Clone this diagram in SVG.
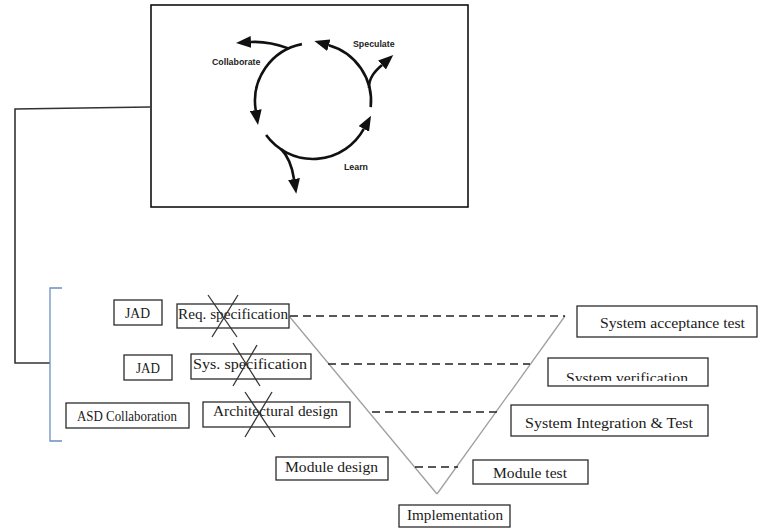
<svg xmlns="http://www.w3.org/2000/svg" width="760" height="529" viewBox="0 0 760 529">
  <defs>
    <style>
      .box { fill: #fff; stroke: #2b2b2b; stroke-width: 1.3; }
      .lbl { font-family: "Liberation Serif", "Times New Roman", serif; font-size: 15px; fill: #1a1a1a; }
      .cyc { font-family: "Liberation Sans", Arial, sans-serif; font-size: 8.8px; font-weight: bold; fill: #222; }
      .arc { fill: none; stroke: #111; stroke-width: 2.6; }
      .cross { stroke: #333; stroke-width: 1.3; }
      .link { fill: none; stroke: #333; stroke-width: 1.6; }
      .vee { stroke: #a0a0a0; stroke-width: 1.3; }
      .dash { stroke: #222; stroke-width: 1.3; stroke-dasharray: 8 5; }
    </style>
    <marker id="head" markerUnits="userSpaceOnUse" markerWidth="16" markerHeight="12" refX="0" refY="6" orient="auto">
      <path d="M0,0 L15,6 L0,12 z" fill="#111"/>
    </marker>
    <clipPath id="verifClip">
      <rect x="548" y="358" width="160" height="23"/>
    </clipPath>
  </defs>

  <rect width="760" height="529" fill="#fff"/>

  <!-- adaptive cycle panel -->
  <g id="cycle">
    <rect x="151" y="5" width="317" height="202" fill="#fff" stroke="#111" stroke-width="1.6"/>
    <path class="arc" d="M301.9,44.1 A58,58 0 0 0 255.7,110.1" marker-end="url(#head)"/>
    <path class="arc" d="M266.1,135.1 A58,58 0 0 0 363.8,128.9" marker-end="url(#head)"/>
    <path class="arc" d="M370.7,107.1 A58,58 0 0 0 328.8,45.2" marker-end="url(#head)"/>
    <path class="arc" d="M288.5,48.4 Q268,41 251,42" marker-end="url(#head)"/>
    <path class="arc" d="M369,88 C369,78 374,72 382,65" marker-end="url(#head)"/>
    <path class="arc" d="M281,149 C288,156 292,166 294,179" marker-end="url(#head)"/>
    <text class="cyc" x="212" y="65">Collaborate</text>
    <text class="cyc" x="353" y="47">Speculate</text>
    <text class="cyc" x="344" y="170">Learn</text>
  </g>

  <!-- connectors -->
  <g id="connectors">
    <polyline class="link" points="150,107 15,109 15,363 50,363"/>
    <path d="M62,288 L50,288 L50,441 L62,441" fill="none" stroke="#6b8fc2" stroke-width="1.3"/>
    <line class="vee" x1="289" y1="316" x2="437" y2="494"/>
    <line class="vee" x1="565" y1="316" x2="437" y2="494"/>
    <line class="dash" x1="290" y1="316" x2="565" y2="316"/>
    <line class="dash" x1="328" y1="364" x2="530" y2="364"/>
    <line class="dash" x1="372" y1="412" x2="497" y2="412"/>
    <line class="dash" x1="415" y1="467" x2="458" y2="467"/>
  </g>

  <!-- left-hand activities -->
  <g id="jad1">
    <rect class="box" x="114" y="300" width="48" height="25"/>
    <text class="lbl" x="125" y="318" textLength="25" lengthAdjust="spacingAndGlyphs">JAD</text>
  </g>
  <g id="jad2">
    <rect class="box" x="124" y="355" width="48" height="25"/>
    <text class="lbl" x="136" y="373" textLength="24" lengthAdjust="spacingAndGlyphs">JAD</text>
  </g>
  <g id="asd-collaboration">
    <rect class="box" x="66" y="403" width="123" height="25"/>
    <text class="lbl" x="77" y="421" textLength="100" lengthAdjust="spacingAndGlyphs">ASD Collaboration</text>
  </g>

  <!-- left leg of the V -->
  <g id="req-spec">
    <rect class="box" x="177" y="304" width="112" height="24"/>
    <text class="lbl" x="178" y="319" textLength="110" lengthAdjust="spacingAndGlyphs">Req. specification</text>
    <line class="cross" x1="208" y1="295" x2="237" y2="337"/>
    <line class="cross" x1="238" y1="295" x2="212" y2="337"/>
  </g>
  <g id="sys-spec">
    <rect class="box" x="191" y="354" width="120" height="25"/>
    <text class="lbl" x="193" y="369" textLength="114" lengthAdjust="spacingAndGlyphs">Sys. specification</text>
    <line class="cross" x1="233" y1="343" x2="260" y2="386"/>
    <line class="cross" x1="257" y1="345" x2="233" y2="386"/>
  </g>
  <g id="arch-design">
    <rect class="box" x="203" y="402" width="147" height="25"/>
    <text class="lbl" x="213" y="416" textLength="125" lengthAdjust="spacingAndGlyphs">Architectural design</text>
    <line class="cross" x1="245" y1="392" x2="275" y2="437"/>
    <line class="cross" x1="272" y1="392" x2="245" y2="437"/>
  </g>
  <g id="module-design">
    <rect class="box" x="276" y="457" width="112" height="23"/>
    <text class="lbl" x="285" y="472" textLength="93" lengthAdjust="spacingAndGlyphs">Module design</text>
  </g>
  <g id="implementation">
    <rect class="box" x="399" y="505" width="111" height="22"/>
    <text class="lbl" x="407" y="520" textLength="96" lengthAdjust="spacingAndGlyphs">Implementation</text>
  </g>

  <!-- right leg of the V -->
  <g id="acceptance-test">
    <rect class="box" x="577" y="306" width="180" height="31"/>
    <text class="lbl" x="600" y="328" textLength="145" lengthAdjust="spacingAndGlyphs">System acceptance test</text>
  </g>
  <g id="verification">
    <rect class="box" x="548" y="358" width="160" height="28"/>
    <text class="lbl" x="566" y="383" textLength="122" lengthAdjust="spacingAndGlyphs" clip-path="url(#verifClip)">System verification</text>
  </g>
  <g id="integration-test">
    <rect class="box" x="511" y="405" width="197" height="31"/>
    <text class="lbl" x="525" y="428" textLength="168" lengthAdjust="spacingAndGlyphs">System Integration &amp; Test</text>
  </g>
  <g id="module-test">
    <rect class="box" x="473" y="460" width="115" height="24"/>
    <text class="lbl" x="493" y="478" textLength="74" lengthAdjust="spacingAndGlyphs">Module test</text>
  </g>
</svg>
